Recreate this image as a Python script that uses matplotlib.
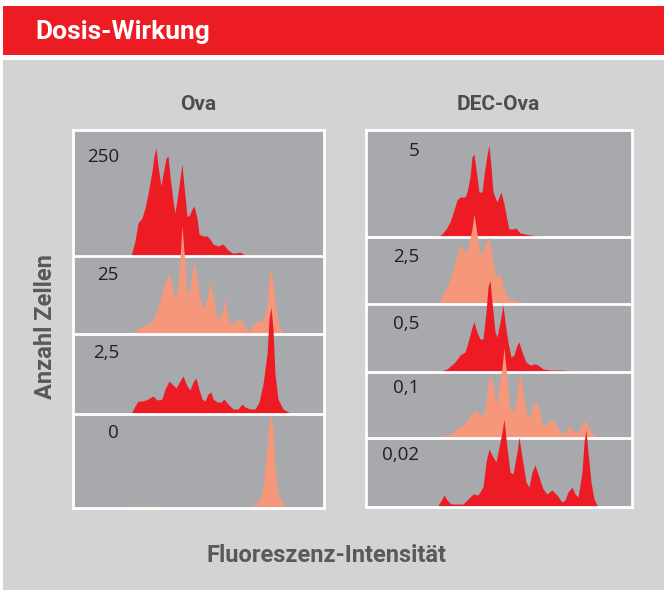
import matplotlib
matplotlib.use("Agg")
import matplotlib.pyplot as plt
from matplotlib.patches import Rectangle

# ---------------- data (fluorescence channel, cell count) ----------------
ova_labels = ["250", "25", "2,5", "0"]
ova_250_x = [57, 61, 64, 68, 71, 74, 78, 80, 82, 84, 87, 89, 92, 94, 96, 99, 101, 104, 107, 108, 110, 113,
             115, 118, 120, 123, 125, 129, 133, 136, 139, 144, 149, 153, 158, 163, 166, 169, 173, 206, 207]
ova_250_y = [0, 15, 33, 38, 48, 62, 85, 100, 108, 90, 70, 82, 98, 100, 80, 55, 43, 63, 85, 92, 70, 40,
             40, 47, 50, 38, 22, 20, 20, 17, 12, 10, 12, 7, 3, 3, 4, 2, 1, 1, 0]
ova_25_x = [59, 63, 68, 73, 78, 82, 86, 89, 93, 95, 98, 101, 103, 106, 108, 111, 113, 116, 118, 121, 123,
            126, 129, 133, 136, 139, 142, 145, 149, 151, 153, 156, 159, 164, 168, 171, 176, 180, 184, 189,
            193, 195, 197, 199, 202, 205, 209, 212]
ova_25_y = [0, 5, 8, 9, 13, 22, 33, 47, 55, 62, 48, 37, 40, 75, 108, 70, 40, 45, 62, 72, 55,
            35, 25, 35, 53, 40, 20, 15, 25, 37, 22, 12, 10, 15, 13, 8, 3, 10, 13, 13,
            30, 55, 68, 50, 25, 8, 2, 0]
ova_2_5_x = [57, 61, 64, 69, 74, 79, 83, 88, 91, 95, 98, 102, 106, 109, 113, 116, 119, 122, 124, 128,
             131, 134, 137, 139, 143, 147, 150, 154, 159, 164, 168, 171, 176, 181, 185, 189, 193, 195,
             197, 199, 201, 204, 209, 216, 218]
ova_2_5_y = [0, 8, 13, 13, 15, 18, 14, 15, 25, 33, 30, 26, 33, 38, 28, 24, 32, 36, 28, 15,
             13, 20, 22, 15, 12, 12, 15, 10, 5, 5, 10, 7, 5, 5, 12, 30, 60, 95,
             107, 85, 40, 15, 5, 1, 0]
ova_0_x = [57, 58, 81, 82, 175, 179, 184, 189, 193, 195, 197, 199, 201, 204, 209, 213]
ova_0_y = [0, 2, 2, 0, 0, 3, 6, 20, 60, 90, 92, 80, 40, 15, 4, 0]

dec_labels = ["5", "2,5", "0,5", "0,1", "0,02"]
dec_5_x = [70, 75, 79, 83, 87, 90, 93, 98, 100, 103, 105, 107, 110, 112, 115, 117, 120, 122, 124, 126,
           130, 132, 134, 137, 140, 142, 146, 149, 153, 158, 163, 173, 174]
dec_5_y = [0, 3, 8, 15, 27, 37, 40, 40, 45, 60, 80, 83, 60, 45, 45, 62, 82, 92, 70, 45,
           35, 40, 45, 33, 17, 8, 8, 9, 4, 3, 2, 1, 0]
dec_2_5_x = [72, 76, 80, 85, 89, 92, 94, 96, 99, 102, 105, 107, 110, 113, 116, 118, 121, 122, 125, 128,
             130, 133, 136, 139, 143, 146, 150, 156, 160]
dec_2_5_y = [0, 10, 18, 30, 45, 57, 58, 55, 52, 60, 75, 90, 70, 52, 50, 60, 65, 67, 50, 30,
             28, 30, 20, 10, 4, 5, 3, 1, 0]
dec_0_5_x = [70, 80, 88, 93, 98, 101, 105, 107, 110, 113, 116, 119, 121, 123, 125, 128, 130, 133, 136,
             138, 141, 144, 147, 150, 152, 155, 159, 163, 168, 171, 176, 183, 193, 210, 228, 229]
dec_0_5_y = [0, 3, 10, 17, 20, 30, 45, 50, 40, 33, 33, 60, 85, 92, 70, 40, 35, 50, 67,
             50, 30, 15, 17, 27, 30, 20, 10, 7, 8, 7, 3, 2, 2, 1, 1, 0]
dec_0_1_x = [72, 78, 85, 90, 95, 100, 105, 109, 114, 118, 121, 124, 126, 129, 131, 135, 137, 140, 143,
             146, 149, 151, 154, 156, 160, 163, 166, 170, 173, 176, 181, 186, 190, 193, 196, 200, 203,
             206, 210, 214, 218, 221, 225, 229]
dec_0_1_y = [0, 3, 4, 10, 12, 17, 25, 27, 22, 27, 55, 63, 55, 33, 45, 70, 90, 60, 28,
             27, 35, 55, 65, 45, 25, 20, 32, 37, 25, 12, 15, 19, 12, 5, 5, 8, 12,
             8, 5, 12, 18, 12, 5, 0]
dec_0_02_x = [70, 75, 77, 80, 84, 90, 96, 101, 106, 111, 116, 119, 122, 126, 129, 132, 135, 137, 140,
              143, 146, 150, 152, 155, 159, 162, 165, 168, 172, 176, 180, 185, 190, 195, 198, 201, 205,
              208, 211, 215, 217, 219, 221, 224, 227, 231]
dec_0_02_y = [0, 8, 12, 7, 3, 3, 3, 8, 13, 12, 20, 45, 58, 50, 45, 60, 75, 88, 60,
              35, 33, 55, 70, 50, 25, 20, 35, 42, 30, 18, 13, 17, 12, 5, 7, 15, 20,
              13, 10, 35, 65, 77, 55, 25, 8, 0]

ova_series = [(ova_250_x, ova_250_y), (ova_25_x, ova_25_y), (ova_2_5_x, ova_2_5_y), (ova_0_x, ova_0_y)]
dec_series = [(dec_5_x, dec_5_y), (dec_2_5_x, dec_2_5_y), (dec_0_5_x, dec_0_5_y),
              (dec_0_1_x, dec_0_1_y), (dec_0_02_x, dec_0_02_y)]

# ---------------- layout / style ----------------
W, H = 664, 590
RED = "#ed1c24"
SALMON = "#f5977a"
PANEL = "#a7a9ac"
BG = "#d1d3d4"
TXT = "#58595b"
DARK = "#231f20"

fig = plt.figure(figsize=(W / 100, H / 100), dpi=100)
fig.patch.set_facecolor("white")

def fx(px):
    return px / W

def fy(py):
    return 1 - py / H

# background blocks
fig.patches.append(Rectangle((fx(3), 0), 1 - fx(3), fy(60), transform=fig.transFigure,
                             facecolor=BG, edgecolor="none", zorder=-5))
fig.patches.append(Rectangle((fx(3), fy(55)), 1 - fx(3), fy(6) - fy(55), transform=fig.transFigure,
                             facecolor=RED, edgecolor="none", zorder=-5))
fig.text(fx(35), fy(32), "Dosis-Wirkung", color="white", fontsize=19, fontweight="bold",
         family="Roboto", va="center", ha="left")

fig.text(fx(198), fy(104), "Ova", color="#4d4d4f", fontsize=15, fontweight="bold",
         family="Roboto", ha="center", va="center")
fig.text(fx(498), fy(104), "DEC-Ova", color="#4d4d4f", fontsize=15, fontweight="bold",
         family="Roboto", ha="center", va="center")
fig.text(fx(46), fy(327), "Anzahl Zellen", color=TXT, fontsize=17, fontweight="bold",
         family="Roboto", ha="center", va="center", rotation=90)
fig.text(fx(326), fy(555), "Fluoreszenz-Intensität", color=TXT, fontsize=17, fontweight="bold",
         family="Roboto", ha="center", va="center")


def panel(left, right, top, bottom, series, labels, baselines_px, label_x, label_dy):
    ax = fig.add_axes([fx(left), fy(bottom), fx(right) - fx(left), fy(top) - fy(bottom)])
    ax.set_facecolor(PANEL)
    width = right - left
    height = bottom - top
    ax.set_xlim(-1, width - 1)
    ax.set_ylim(0, height)
    ax.set_xticks([])
    ax.set_yticks([])
    for s in ax.spines.values():
        s.set_color("white")
        s.set_linewidth(2)
        s.set_zorder(50)
    z = 1
    n = len(series)
    for i, ((xs, ys), lab) in enumerate(zip(series, labels)):
        base = bottom - baselines_px[i]
        col = RED if i % 2 == 0 else SALMON
        ax.fill_between(xs, [base] * len(xs), [base + v for v in ys], color=col, lw=0, zorder=z,
                        clip_on=True)
        z += 1
        if i < n - 1:
            ax.axhline(base, color="white", lw=2, zorder=z)
            z += 1
        # track label
        track_top = top if i == 0 else baselines_px[i - 1]
        ax.text(label_x - left, bottom - (track_top + label_dy[i]), lab, color=DARK, fontsize=13.5,
                family="Open Sans", ha="right", va="center", zorder=40)
    return ax


panel(73, 324, 130, 508, ova_series, ova_labels, [256, 334, 414, 508], 118,
      [27, 19, 19, 19])
panel(366, 632, 130, 507, dec_series, dec_labels, [237, 304, 372, 438, 507], 418,
      [21, 20, 20, 16, 17])

fig.savefig("out.png", dpi=100)
